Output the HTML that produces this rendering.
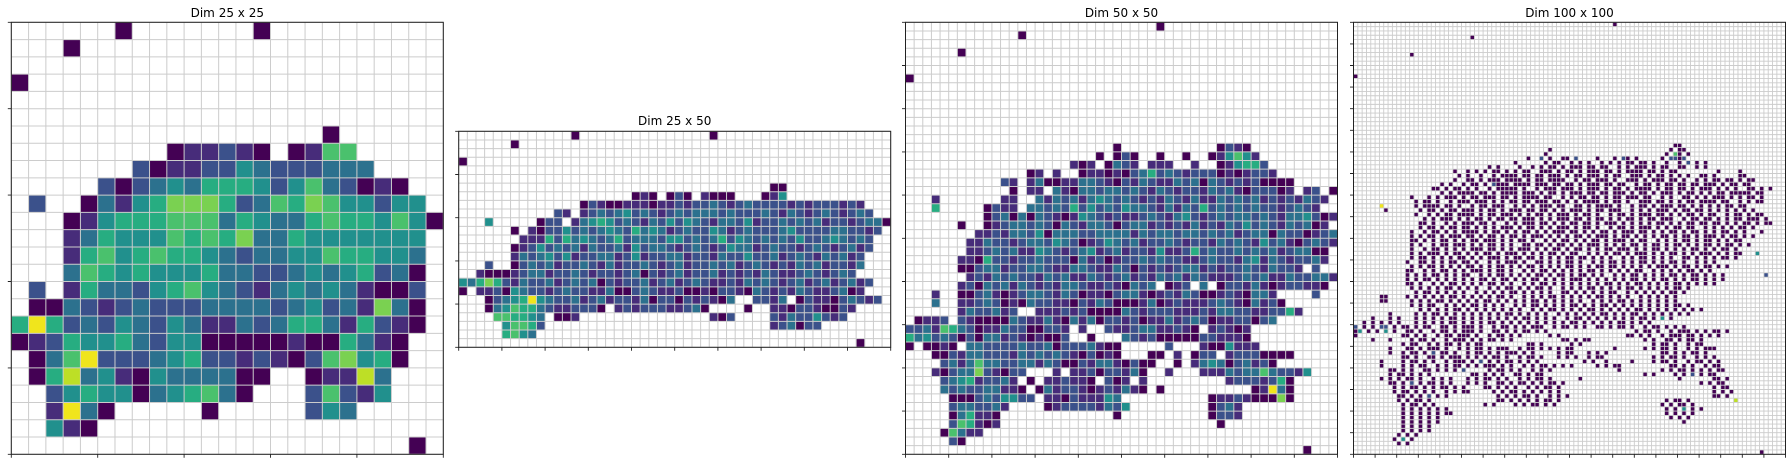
<!DOCTYPE html>
<html>
<head>
<meta charset="utf-8">
<style>
  html,body{margin:0;padding:0;background:#fff;}
  body{width:1792px;height:466px;overflow:hidden;}
  svg{display:block;}
  text{font-family:"DejaVu Sans","Liberation Sans",sans-serif;}
</style>
</head>
<body>
<svg id="fig" width="1792" height="466" viewBox="0 0 1792 466" xmlns="http://www.w3.org/2000/svg"></svg>
<script>
// viridis colour bins (value 0..9)
const viridisBins = ['#440154','#472c7a','#3b518b','#2c718e','#21908d','#27ad81','#4ac16d','#7ad151','#bddf26','#f0e51c'];

// Panel 1: 25 x 25, one char per cell ('.' = empty)
const p1Rows = [
"......0.......0..........",
"...0.....................",
".........................",
"0........................",
".........................",
".........................",
"..................0......",
".........011210.0166.....",
".......20112243222333....",
".....202343555424632010..",
".2..03145777523657644244.",
"...0145556663543356554640",
"...135444656573354444444.",
"...156456554323344655443.",
"...365454445332234345230.",
".2.153324564321343431002.",
".00321232223333234231730.",
"595232432431132355315210.",
"01254453244000001005310..",
".0369222345221210267450..",
".05834104333300..01183...",
"..245440345630...26214...",
"..1930.....0.....243.....",
"..410....................",
".......................0."
];

// Panel 2: 25 x 50, segments "startCol:cells" separated by |
const p2Rows = [
"13:0|29:0","6:0","","0:0","","","36:00",
"20:010|24:020|28:100|31:0|35:014",
"14:021001110112122321232222121222121",
"11:21|14:1232342321232333232223213212321232",
"3:4|9:022|13:1345423213242432133241223232312212330",
"6:0|8:10224232343253431232243123222342222332212",
"7:11152534323523332442323524323232422343232",
"6:012423231322314233212321243312322123212312",
"6:13234241223312412233122132242231232132312",
"3:2|6:02323122321312232123122323123212132312213",
"2:10001233122321221230212312231212132112321232",
"0:435752132231232302122312312321121323212312312312",
"0:0|2:112043221232211300232112001022103212132112301",
"3:02345943223123122130220212103..2213.0211023212",
"3:03465532112220|18:12122211230|33:0|36:1102210021",
"4:665543|11:001|29:102|36:213224212",
"5:46652|36:123022",
"5:5643",
"46:0"
];

// Panel 3: 50 x 50
const p3Rows = [
"29:0","13:0","","6:0","","","0:0","","","","","","","",
"24:0|36:0210",
"22:0|24:020|29:0|32:0|35:014641",
"19:101|23:0321|28:111|33:1|36:014552",
"14:01|17:1|20:01101023523212220101221",
"11:21|14:1300113321021321132303212120000",
"12:0|14:11.3103323323213212213231022201.12.0",
"3:1|11:11|15:3132313432321213213113232312121321",
"3:5|9:0211|14:3323252423243321313252323232212321",
"9:0230303210143212112321342123233232133420121",
"6:0|9:0123323203213320233121213121324232132301",
"8:1121332403332233331323323323231233032201231",
"7:1132212332432012432312232122132321423102321",
"7:11232311432123412312214112523223232312330|48:0",
"6:1105221223222031201223232211232213413212231",
"6:0023312233211332113202121233121223213221.2",
"7:1213232213231132123121323132111232311322331",
"6:12032313212133211210323.012.3.0221310122110",
"3:1|6:0023101233213201102331012132001210331|47:2",
"3:3|6:11232010322110213200013012111232103120",
"6:1322312..1112120000321222111213322112251",
"1:0112.2100003211310313022120113123201122023",
"0:2231653201132200221.1..21123311210.12101",
"0:5342320203312101002..0...321200000221110",
"0:0.0010.332222322302223100.....2...1004111",
"3:0021332221323232102010|28:00|31:1|33:022|37:12220000",
"4:2313633223313200213310200|31:0|33:1343023120",
"3:10233721022|17:1|19:112022130|30:1|34:1113233632214",
"4:234512231|14:0|16:112110|23:201|27:1|37:12221250",
"4:3232233110|15:0312210121310|29:0|40:01930",
"5:0002324422|16:110211143|35:0112100070",
"5:2332231|16:0122221324|35:0231",
"5:035110|24:0|35:0221",
"5:265101|36:0",
"4:06311",
"5:20",
"46:0"
];

// Panel 4: 100 x 100, "row>startCol:cells|startCol:cells"
const p4Rows = [
"0>60:0","3>27:0","7>13:0","12>0:0",
"28>74:00",
"29>45:0|73:0.00",
"30>44:0|72:0.60.0",
"31>40:0|43:2.0|48:00.2|56:0|60:0.2|63:0.0|71:0.2202",
"32>37:0|44:0.00|50:0|52:0.0..0|59:0.0.00|66:00.0|72:0..0.2|79:0.0",
"33>31:0.0|38:0..0|43:0.00.0.00|52:0.00.00.|61:0.0.000.0.00|75:00..0.0",
"34>23:0|26:0.0|30:0.00.0.0.00..000.0.00.0.000.00.0.0000.00.0.00|84:0|89:0",
"35>24:0|26:0|29:0..0.0000.00.00.000.0.00.000.0.00..000.0.00.0.0.0..00.0|89:00",
"36>23:0|26:00.0.000.0000.0.00.0000..0.00.000.0..000.0.000.00.0..0.0.00.00.0.0|92:0",
"37>20:0.0|25:0.00.0.2000.0000.000.00.00.0.000.00.00..0.00.0.00.00.00.000.0.00.00",
"38>18:00.0.00.0.0..0.00000.0..0.000.000.0.000.0.00.0.0000.0.00.00.0.000.0.0.0..00.0.0",
"39>20:0.0.0000.00.0.0000.000.0.00.0.000.00.00.000.0.00.0.000.0.00.0.0.00.00000.00",
"40>13:0|17:0.0.000.0.00.000.00.0.0000.00..0.0.00.00.0.00.000.00..0.0..00.0.0.000.0.0.00.0",
"41>14:0.00.0..0.000.000.0.0.00.00.000.00.0.0.0000.0.00.0..000.00.0.0.00.0000.00..0.0.00",
"42>6:9|14:0.0000.00.0..0.00.000..0.0.0.000.00..00.0.0000.0..0.00.0.000.00.0.0.0.0.00.00",
"43>7:0|15:0.00.0.00.000.0.00.0.000.00.00.0.0.000.0.00.000..0.0.0.000.0.00.00.0.0.0.0.0.0",
"44>14:0..0.0.00.0000.0.00.000.0.0.00.0.000.0.00.0..0.00.0.000.00.0.0.00.0.00..0.00.0.00",
"45>16:0.0.000.0.0.00.0.00.00.000.0.0.000.00.0.00.0.0.00.0.00.000..0.00.00.0.0.00.000.0",
"46>15:00.0..0.0.000.00.0..0.0.000.00.0.0.00.00.0.000.0.0.0.0.00.0.0.00.00.00.0.0.00.0.00",
"47>15:0.00.0.00.00.0.0.0.000.0.00.0.0.000.0.00.0..0.00.0.000.0.0.00.00..0.0.0.0.00.0",
"48>13:0|16:0.00.0.0.0000.0.00.0.0.00.0.0.000.00.0.0.00.0.000.00.0.0.00.0.00.0.0.00.0.0|94:0",
"49>13:0.0.00.0.000.00.0.00.0.00.0.000.0.0.0.00.0.000.0.00.0.0.0.00.0.00.0.000.0.00.0.0",
"50>13:00.0.0.00.0.0.00.000.0.0.00.0..0.0.00.0.0.00.0.000.0.00..0.0.0.00.0.00.0.0.00",
"51>13:0.0..0.00.000.0.0.00.0.0..00.00.0.00.0.0.000.0.0.0.00.0.00.0.00.0.0.00.0.00.0.0",
"52>13:0..0.00.0.0.0.000.00.0.0.000.0.0.00.0.00.0.0.00.000.0.0.00.0.0.0.00.0.0.00.0",
"53>13:0.0.000.0.00.0.0.00.0.000.0.0.0.00.0.00..0.0.0.00.0.000.0.0.00.0.0.000.0.0.00|93:4",
"54>13:0.00.0.0.0.00.0.0.000.0.00.00.0.0.0.00.00.0.0.0..0.0.00.0.0.0..00.0.0.0.00.0",
"55>12:0..00.0.0.00.00.0..0.0.000.0..00.0.0.00.0..0.0.00.0.0.00.0.0.00.0..0.0.0",
"56>13:0.0.00.0.0.0.00.0.0.00.0.0.00.0.0.0.00.0.0.00.00.0.0.0.0.000.0.00.0.00.0.0",
"57>12:00..0.0.00.0.0.000.0.00.0..0.0.00.0.0.0.0.00.0.0.0.0.00..0.0.0.0.00.0.0",
"58>12:0.0.0.00.0.0.00..0.0.00.0.0.0.00.0.00.0.00.0.0..0.0.00.0.0.0.00.0.00.0.0.0|95:2",
"59>12:0.0.00.0.0.0.0.0.00.0.00.0.0.00.0.0.0.000.0.0.0.0.0.00.0.0.00.0.0.00.0.0.0",
"60>12:00.0..0.0.00.0.0.0.00.0.0..0.0.00.0.0.0.0.0.0.00.0.0.00.0.0.0.00.0.0.0.0",
"61>13:0.0.0.0.00.0.0.0..0.0.00.0.0.00.0..0.0.0.00.0.0.0.00.0.0.0.0.00.0",
"62>14:0.00.0.0.0.0..0.0.0.0.00.0.0.0.0..00.0.0.0.0.00..0.0.0.0.0.00.0",
"63>6:00|12:0.0.0.0.0.00.0.0.0.0.00.0..0.0.0.00.0.0.0.0.00.0.0.0..0.0.0.0.0",
"64>6:00|12:.0.0.0.00.0.0.0.0.00.0.0.0.0.00.0.0.0.0.0..0.0.0.00.0.0.0.0.0.0",
"65>13:0.0.00..0.0.0.00.0.0.0..0.0.00.0.0.0.00.0.0.00.0.0.0.0.0.0.0.00.0",
"66>15:0.0.0.0.00.0.0.0.0.0.0.0..0.0.00.0.0.0.00.0.0.0.0.00.0.0.0.0.0.0.0",
"67>8:0|14:0.0.00.0.0.0.0.0.0.0.00.0.0.0.0..0.0.0.0.0.00.0.0.00.0.0.0.0.0.0",
"68>4:0|8:0.0.|14:0.0.0.0.00.0.0.0.0.0.0.0.00.0.0.0..0.00.0.0.0.0.0.0.00.0.4.0",
"69>2:0.0|6:0.0.0|14:0.0.0.0.00.0.0.0.00.0.0.0.0.0.0.0.0.00.0.0.0.0.00.0.0.0",
"70>0:2.0.0.22.0.00.0.00..00.0.000.0..0.00.0.0.000..0.00.0.0..00.0.00.0..0.00.0.0.0",
"71>0:04.0.0.4.0|12:00.0..0.00.0.000.0..00.0.0.00.0.0|65:0.00.0..0.000.0.0.00.0",
"72>0:0|11:00.0.0..0.00.000.0..0.00.0.0|45:0.0|63:00.0.0..0.000.00.0.0.0",
"73>4:0|8:0|13:0.00.0..0.000.0.0.00.0.0|48:00.0.00|67:0.0..00.0.00.0",
"74>11:0.00..0.0.00.0.0.00|40:00.0|50:0.0|69:0.00.0..0.00",
"75>8:0|12:00.0.000.0..0.0.00.0.000..0.00.0.0.0.00|60:0|67:0.0.00.0..0.0.000",
"76>8:0|11:0.00.0.2.00.0..0.00.0.0.000.0.0|47:0.00|54:0.0.0|71:00.0.0.00.0",
"77>11:00.0..00.0.000.0.0.0.00.0..0.00.0|47:0.0.0|54:0.00|69:0.0.00.0..0.0.0",
"78>6:0|11:0.00.0.0..0.000.0.2.0.0.00.0.0.0|53:0.0|58:0|64:0|69:0.00.0..0.00.0.0",
"79>6:0|11:0.0.00..0.0.00.0.0.000.0.0..0.0.00.0.0.0|56:0.0.00|73:00.0.0..0.00",
"80>8:00.0.0..00.0.0.0.2|31:0.00.0.0..0.0.0|61:0|71:0.0.00.0.0.0.00",
"81>8:0.00.0.0.0.|27:00.0.0.0..00.0.00|67:0.0|74:0.0.2.0.00",
"82>6:0|8:0.0.00.0..0.0.0|26:0.0.00.0.0..0.0.00.0|52:0|75:0|83:00.0",
"83>8:00.0.2.0.00.0.0.|26:0.0.0..00.0.00.0.0.00.0|80:0.0.00",
"84>9:0.0.00.0.0.00.0.0|30:00.0.0.0..0.0.00.0|83:0.00",
"85>9:0.00.0.0.0..0.0.00|32:0.0.00.0.0.0.0.0|83:0.0.0",
"86>10:00.0.0.2.0.0|33:0.0.0.00.0..0.0.0|83:00.0",
"87>10:0.0.00.0.|33:00.0.0.0.0.00.0|72:0.00.0|88:8",
"88>11:0.00.0.0|30:0.0|37:0.0.00.0.0|71:0.0.00.0",
"89>11:0.0.0.0.0.0|72:0.0.4.0.0",
"90>11:0.0.0.0.0.0|21:00|72:0.0.0.0",
"91>11:0.0.0.0.0|73:0.0.0",
"92>11:0.0.0.0.0|76:0",
"93>11:0.0.0.0",
"94>11:0.0.0.0",
"95>10:0.0.0",
"96>9:0.4.0",
"97>10:0.0",
"99>94:0"
];

const panelTitles = ['Dim 25 x 25','Dim 25 x 50','Dim 50 x 50','Dim 100 x 100'];

const NS = 'http://www.w3.org/2000/svg';
const svg = document.getElementById('fig');
function mk(tag, attrs, parent){
  const e = document.createElementNS(NS, tag);
  for (const k in attrs) e.setAttribute(k, attrs[k]);
  (parent||svg).appendChild(e);
  return e;
}
function emptyGrid(r,c){ const g=[]; for(let i=0;i<r;i++){g.push(new Array(c).fill(null));} return g; }
function fillSegs(row, segStr){
  if(!segStr) return;
  segStr.split('|').forEach(seg=>{
    const i = seg.indexOf(':'); if(i<0) return;
    const start = parseInt(seg.slice(0,i),10); const s = seg.slice(i+1);
    for(let k=0;k<s.length;k++){ const ch=s[k]; if(ch>='0'&&ch<='9'&&start+k<row.length) row[start+k]=+ch; }
  });
}
function gridPlain(rows, nr, nc){ const g=emptyGrid(nr,nc); rows.forEach((s,r)=>{ for(let c=0;c<Math.min(nc,s.length);c++){const ch=s[c]; if(ch>='0'&&ch<='9') g[r][c]=+ch;} }); return g; }
function gridSegs(rows, nr, nc){ const g=emptyGrid(nr,nc); rows.forEach((s,r)=>{ if(r<nr) fillSegs(g[r], s); }); return g; }
function gridIdx(rows, nr, nc){ const g=emptyGrid(nr,nc); rows.forEach(s=>{ const p=s.indexOf('>'); const r=parseInt(s.slice(0,p),10); if(r<nr) fillSegs(g[r], s.slice(p+1)); }); return g; }

const panels = [
  {name:'panel-25x25', grid:gridPlain(p1Rows,25,25), nr:25, nc:25, x:11.3, y:22.3, w:432, h:432, titleY:17},
  {name:'panel-25x50', grid:gridSegs(p2Rows,25,50), nr:25, nc:50, x:458.7, y:131.3, w:432, h:216, titleY:125},
  {name:'panel-50x50', grid:gridSegs(p3Rows,50,50), nr:50, nc:50, x:905.5, y:22.3, w:432, h:432, titleY:17},
  {name:'panel-100x100', grid:gridIdx(p4Rows,100,100), nr:100, nc:100, x:1353.5, y:22.3, w:432, h:432, titleY:17}
];

panels.forEach((P, pi)=>{
  const g = mk('g', {});
  
  
  const cw = P.w / P.nc, ch = P.h / P.nr;
  const xs = c => P.x + c*cw;
  const ys = r => P.y + r*ch;
  const bg = mk('rect', {x:P.x, y:P.y, width:P.w, height:P.h, fill:'#fff'}, g);
  
  
  for(let r=0;r<P.nr;r++) for(let c=0;c<P.nc;c++){
    const v = P.grid[r][c];
    if(v===null) continue;
    const cell = mk('rect', {x:xs(c), y:ys(r), width:cw, height:ch, fill:viridisBins[v]}, g);
    
    
  }
  let d='';
  for(let c=0;c<=P.nc;c++){ const X=xs(c).toFixed(2); d+=`M${X} ${P.y}V${P.y+P.h}`; }
  for(let r=0;r<=P.nr;r++){ const Y=ys(r).toFixed(2); d+=`M${P.x} ${Y}H${P.x+P.w}`; }
  const gl = mk('path', {d:d, stroke:'#cccccc', 'stroke-width': P.nc>=100?0.9:1, fill:'none'}, g);
  
  
  let td='';
  for(let c=0;c<=P.nc;c+=5){ const X=xs(c).toFixed(2); td+=`M${X} ${P.y+P.h}v3.5`; }
  for(let r=0;r<=P.nr;r+=5){ const Y=ys(r).toFixed(2); td+=`M${P.x} ${Y}h-3.5`; }
  const tk = mk('path', {d:td, stroke:'#222', 'stroke-width':0.9, fill:'none'}, g);
  
  
  const fr = mk('rect', {x:P.x, y:P.y, width:P.w, height:P.h, fill:'none', stroke:'#222', 'stroke-width':1}, g);
  
  
  const t = mk('text', {x:P.x+P.w/2, y:P.titleY, 'text-anchor':'middle', 'font-size':12, fill:'#000'}, g);
  t.textContent = panelTitles[pi];
  
  
});
</script>
</body>
</html>
